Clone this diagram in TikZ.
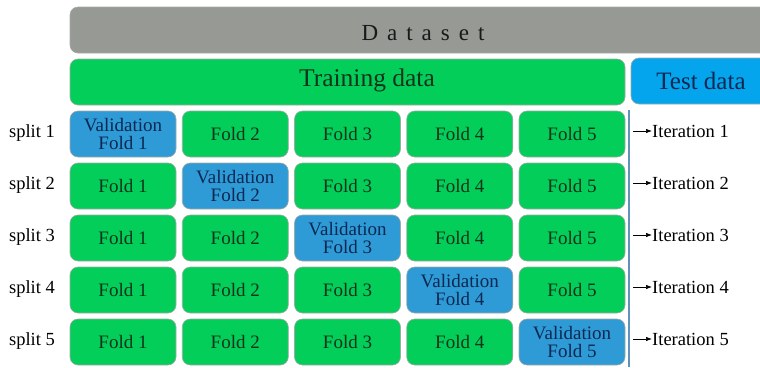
\documentclass[tikz,border=0pt]{standalone}
\usepackage{fontspec}
\setmainfont{Liberation Serif}
\usetikzlibrary{arrows.meta}

\definecolor{dsgrey}{RGB}{151,153,149}
\definecolor{traingreen}{RGB}{3,206,90}
\definecolor{testblue}{RGB}{5,165,238}
\definecolor{validblue}{RGB}{46,155,214}
\definecolor{edgegrey}{RGB}{160,170,165}
\definecolor{foldtext}{RGB}{15,52,26}
\definecolor{validtext}{RGB}{12,40,82}
\definecolor{linesteel}{RGB}{96,146,188}

\tikzset{
  bar/.style={rounded corners=8pt, draw=edgegrey, line width=0.6pt,
              minimum height=46pt, inner sep=0pt},
  foldbox/.style={rounded corners=8pt, draw=edgegrey, line width=0.6pt,
                  minimum width=106pt, minimum height=46pt, inner sep=0pt,
                  fill=traingreen, text=foldtext, align=center,
                  font=\fontsize{19}{18.5}\selectfont},
  validbox/.style={foldbox, fill=validblue, text=validtext},
  sidelabel/.style={font=\fontsize{18.5}{20}\selectfont, text=black, inner sep=0pt},
  iterarrow/.style={-{Latex[length=6pt,width=4.5pt]}, line width=0.7pt, black},
}

\begin{document}
\begin{tikzpicture}[x=1pt,y=-1pt]
\useasboundingbox (0,0) rectangle (760,367);

% header bars run past the right edge
\begin{scope}
  \clip (0,0) rectangle (760,367);
  \node[bar, fill=dsgrey, minimum width=706pt] (dataset) at (423,30) {};
  \node[bar, fill=testblue, minimum width=140pt, text=validtext,
        font=\fontsize{25}{26}\selectfont] (test) at (701,81) {Test data};
\end{scope}
\node[inner sep=0pt, text=black!90, font=\fontsize{23}{24}\selectfont]
  (datatext) at (423,33)
  {D\kern9pt a\kern9pt t\kern9pt a\kern9pt s\kern9pt e\kern9pt t};

\node[bar, fill=traingreen, minimum width=555pt] (train) at (347.5,82) {};
\node[inner sep=0pt, text=foldtext, font=\fontsize{25.5}{26}\selectfont]
  (traintext) at (367,80) {Training data};

% fold grid: the diagonal holds the validation fold
\foreach \r in {1,...,5} {
  \pgfmathsetmacro{\ry}{134+52*(\r-1)}
  \node[sidelabel] (split\r) at (32,\ry-1) {split \r};
  \foreach \c in {1,...,5} {
    \pgfmathsetmacro{\cx}{123+112.25*(\c-1)}
    \ifnum\r=\c
      \node[validbox] (f\r\c) at (\cx,\ry) {Validation\\Fold \c};
    \else
      \node[foldbox] (f\r\c) at (\cx,\ry) {Fold \c};
    \fi
  }
  \coordinate (a\r) at (633,\ry-3);
  \node[sidelabel, anchor=west] (it\r) at (652,\ry-3) {Iteration \r};
  \draw[iterarrow] (a\r) -- (it\r.west);
}

% separator between folds and iterations
\coordinate (vtop) at (628.5,110);
\coordinate (vbot) at (628.5,367);
\draw[linesteel, line width=2pt] (vtop) -- (vbot);
\end{tikzpicture}
\end{document}
